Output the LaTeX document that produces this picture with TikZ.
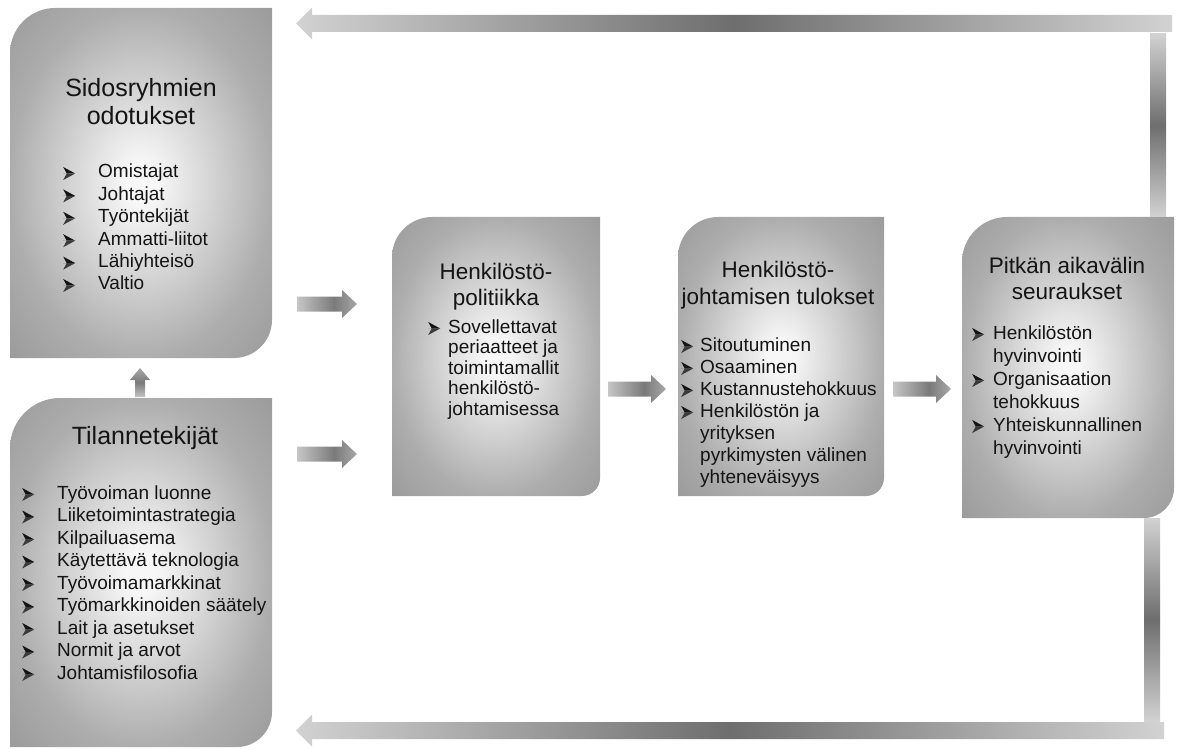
\documentclass[tikz,border=0pt]{standalone}
\usepackage{fontspec}
\setmainfont{Liberation Sans}
\usetikzlibrary{calc}

\definecolor{inkc}{HTML}{141414}
\definecolor{bulletlow}{HTML}{3A3A3A}
\definecolor{panelhi}{HTML}{F7F7F7}
\definecolor{panelmid}{HTML}{ADADAD}
\definecolor{panello}{HTML}{9A9A9A}
\definecolor{barlight}{HTML}{D2D2D2}
\definecolor{bardark}{HTML}{6E6E6E}
\definecolor{stublight}{HTML}{C6C6C6}
\definecolor{stubdark}{HTML}{7A7A7A}
\definecolor{stubend}{HTML}{A8A8A8}

% soft radial glow for the panels
\pgfdeclareradialshading{panelglow}{\pgfpoint{0bp}{0bp}}{color(0bp)=(panelhi); color(3bp)=(panelhi); color(25bp)=(panelmid); color(36bp)=(panello); color(50bp)=(panello)}
% feedback bars: light ends, dark middle
\pgfdeclarehorizontalshading{barglow}{100bp}{color(0bp)=(barlight); color(25bp)=(barlight); color(50bp)=(bardark); color(75bp)=(barlight); color(100bp)=(barlight)}
\pgfdeclareverticalshading{vbarglow}{100bp}{color(0bp)=(barlight); color(25bp)=(barlight); color(50bp)=(bardark); color(75bp)=(barlight); color(100bp)=(barlight)}
% short block arrows
\pgfdeclarehorizontalshading{stubglow}{100bp}{color(0bp)=(stublight); color(25bp)=(stublight); color(56bp)=(stubdark); color(75bp)=(stubend); color(100bp)=(stubend)}
\pgfdeclareverticalshading{stubvglow}{100bp}{color(0bp)=(stublight); color(25bp)=(stublight); color(50bp)=(stubdark); color(75bp)=(stubend); color(100bp)=(stubend)}

% arrowhead bullet, drawn as a small notched dart
\newcommand\dart{\tikz[baseline=2pt]{%
  \fill[inkc] (0pt,6.5pt) -- (12pt,6.5pt) -- (0pt,13pt) -- (3.5pt,6.5pt) -- cycle;
  \fill[bulletlow] (0pt,0pt) -- (12pt,6.5pt) -- (3.5pt,6.5pt) -- cycle;}}
\newlength\bulgap
\newcommand\bul{\llap{\makebox[\bulgap][l]{\dart}}}
% left-aligned and centred line stacks with a fixed baseline distance
\newcommand\stackleft[2]{\vtop{\baselineskip=#1\lineskiplimit=-100pt\halign{##\hfil\cr#2\crcr}}}
\newcommand\stackmid[2]{\vtop{\baselineskip=#1\lineskiplimit=-100pt\halign{\hfil##\hfil\cr#2\crcr}}}

% panel outline: rounded top-left and bottom-right corners
\newcommand\panelpath[3]{%
  \path[panel] (#1.south west) -- ([yshift=-#2]#1.north west)
    .. controls ([yshift=-0.45*#2]#1.north west) and ([xshift=0.45*#2]#1.north west) .. ([xshift=#2]#1.north west)
    -- (#1.north east) -- ([yshift=#3]#1.south east)
    .. controls ([yshift=0.45*#3]#1.south east) and ([xshift=-0.45*#3]#1.south east) .. ([xshift=-#3]#1.south east)
    -- cycle;}

% horizontal block arrow: style, tail, tip, half shaft, half head, signed head offset
\newcommand\hblock[6]{%
  \path[#1] ($(#2)+(0,-#4)$) -- ($(#3)+(#6,-#4)$) -- ($(#3)+(#6,-#5)$) -- (#3)
    -- ($(#3)+(#6,#5)$) -- ($(#3)+(#6,#4)$) -- ($(#2)+(0,#4)$) -- cycle;}

\tikzset{
  panelframe/.style={rectangle, draw=none, inner sep=0pt, outer sep=0pt},
  panel/.style={shade, shading=panelglow},
  longbar/.style={shade, shading=barglow},
  sidebar/.style={shade, shading=vbarglow},
  stub/.style={shade, shading=stubglow},
  stubup/.style={shade, shading=stubvglow},
  bigtitle/.style={anchor=base, inner sep=0pt, text=inkc, font=\fontsize{25}{28}\selectfont},
  midtitle/.style={anchor=base, inner sep=0pt, text=inkc, font=\fontsize{22.5}{27}\selectfont},
  listtext/.style={anchor=base west, inner sep=0pt, text=inkc, font=\fontsize{19}{22}\selectfont},
}

\begin{document}
\begin{tikzpicture}[x=1pt,y=-1pt]
\path[use as bounding box] (0,0) rectangle (1179,749);

% panels
\node[panelframe, minimum width=262pt, minimum height=350pt] (stake)  at (141,183)    {};
\node[panelframe, minimum width=262pt, minimum height=349pt] (situ)   at (141,572.5)  {};
\node[panelframe, minimum width=208pt, minimum height=279pt] (policy) at (496,356.5)  {};
\node[panelframe, minimum width=206pt, minimum height=279pt] (result) at (781,356.5)  {};
\node[panelframe, minimum width=212pt, minimum height=301pt] (longrun) at (1068,367.5) {};

\panelpath{stake}{45pt}{38pt}
\panelpath{situ}{50pt}{35pt}
\panelpath{policy}{40pt}{18pt}
\panelpath{result}{40pt}{18pt}
\panelpath{longrun}{45pt}{30pt}

% feedback loop from the long-run panel back to the left column
\coordinate (topTail) at (1172,23.5);
\coordinate (topTip)  at (296,23.5);
\hblock{longbar}{topTail}{topTip}{8.5}{16}{16}
\coordinate (riseA) at (1150,34);
\coordinate (riseB) at (1166,217);
\path[sidebar] (riseA) rectangle (riseB);
\coordinate (dropA) at (1144,518);
\coordinate (dropB) at (1160,721);
\path[sidebar] (dropA) rectangle (dropB);
\coordinate (lowTail) at (1164,730.5);
\coordinate (lowTip)  at (296,730.5);
\hblock{longbar}{lowTail}{lowTip}{8.5}{16}{16}

% short arrows between the panels
\coordinate (aTail) at (297,304);  \coordinate (aTip) at (357,304);
\hblock{stub}{aTail}{aTip}{7.5}{14}{-15}
\coordinate (bTail) at (297,454);  \coordinate (bTip) at (357,454);
\hblock{stub}{bTail}{bTip}{7.5}{14}{-15}
\coordinate (cTail) at (608,389);  \coordinate (cTip) at (666,389);
\hblock{stub}{cTail}{cTip}{7.5}{14}{-15}
\coordinate (dTail) at (893,389);  \coordinate (dTip) at (951,389);
\hblock{stub}{dTail}{dTip}{7.5}{14}{-15}
\coordinate (upTail) at (140,397); \coordinate (upTip) at (140,368);
\path[stubup] ($(upTail)+(-5,0)$) -- ($(upTip)+(-5,12)$) -- ($(upTip)+(-10,12)$) -- (upTip)
  -- ($(upTip)+(10,12)$) -- ($(upTip)+(5,12)$) -- ($(upTail)+(5,0)$) -- cycle;

% panel texts
\node[bigtitle] (stakehead) at (141,97) {\stackmid{28pt}{Sidosryhmien\cr odotukset}};
\node[listtext] (stakelist) at (98,178) {\setlength\bulgap{35pt}\stackleft{22.4pt}{%
  \bul Omistajat\cr \bul Johtajat\cr \bul Työntekijät\cr \bul Ammatti-liitot\cr
  \bul Lähiyhteisö\cr \bul Valtio}};

\node[bigtitle] (situhead) at (145,444) {Tilannetekijät};
\node[listtext] (situlist) at (57,499) {\setlength\bulgap{35pt}\stackleft{22.5pt}{%
  \bul Työvoiman luonne\cr \bul Liiketoimintastrategia\cr \bul Kilpailuasema\cr
  \bul Käytettävä teknologia\cr \bul Työvoimamarkkinat\cr \bul Työmarkkinoiden säätely\cr
  \bul Lait ja asetukset\cr \bul Normit ja arvot\cr \bul Johtamisfilosofia}};

\node[midtitle] (policyhead) at (496,279) {\stackmid{27pt}{Henkilöstö-\cr politiikka}};
\node[listtext] (policylist) at (448,333) {\setlength\bulgap{20pt}\stackleft{20.5pt}{%
  \bul Sovellettavat\cr periaatteet ja\cr toimintamallit\cr henkilöstö-\cr johtamisessa}};

\node[midtitle] (resulthead) at (778,277) {\stackmid{27pt}{Henkilöstö-\cr johtamisen tulokset}};
\node[listtext] (resultlist) at (700,351) {\setlength\bulgap{19pt}\stackleft{22pt}{%
  \bul Sitoutuminen\cr \bul Osaaminen\cr \bul Kustannustehokkuus\cr \bul Henkilöstön ja\cr
  yrityksen\cr pyrkimysten välinen\cr yhteneväisyys}};

\node[midtitle] (longrunhead) at (1067,273) {\stackmid{26pt}{Pitkän aikavälin\cr seuraukset}};
\node[listtext] (longrunlist) at (993,339) {\setlength\bulgap{21pt}\stackleft{23pt}{%
  \bul Henkilöstön\cr hyvinvointi\cr \bul Organisaation\cr tehokkuus\cr
  \bul Yhteiskunnallinen\cr hyvinvointi}};
\end{tikzpicture}
\end{document}
